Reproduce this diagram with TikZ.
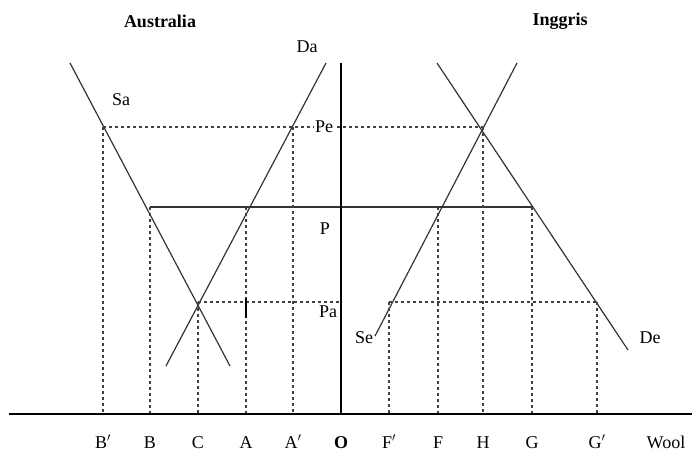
\documentclass[tikz,border=0pt]{standalone}
\usepackage{fontspec}
\setmainfont{Liberation Serif}
\begin{document}
\begin{tikzpicture}[x=1pt,y=-1pt,
  curve/.style={line width=1.2pt,draw=black!80},
  axis/.style={line width=2.2pt},
  dashline/.style={line width=1.1pt,draw=black!75,dash pattern=on 3pt off 3pt},
  lbl/.style={font=\fontsize{18}{21}\selectfont,inner sep=0pt},
  mask/.style={fill=white,inner sep=1pt},
  ttl/.style={font=\fontsize{18}{21}\selectfont\bfseries,inner sep=0pt}]
\useasboundingbox (0,0) rectangle (696,453);
% Australia curves
\coordinate (sa1) at (70,63);
\coordinate (sa2) at (230,366);
\coordinate (da1) at (326,63);
\coordinate (da2) at (166,366);
\draw[curve] (sa1) -- (sa2);
\draw[curve] (da1) -- (da2);
% England curves
\coordinate (se1) at (375,336);
\coordinate (se2) at (517,63);
\coordinate (de1) at (437,63);
\coordinate (de2) at (628,350);
\draw[curve] (se1) -- (se2);
\draw[curve] (de1) -- (de2);
% key points
\coordinate (pB') at (103,127);
\coordinate (pA') at (293,127);
\coordinate (pH) at (483,127);
\coordinate (pB) at (150,207);
\coordinate (pA) at (246,207);
\coordinate (pF) at (438,207);
\coordinate (pG) at (532,207);
\coordinate (pC) at (198,302);
\coordinate (paO) at (341,302);
\coordinate (pF') at (389,302);
\coordinate (pG') at (597,302);
% base points
\coordinate (bB') at (103,414);
\coordinate (bB) at (150,414);
\coordinate (bC) at (198,414);
\coordinate (bA) at (246,414);
\coordinate (bA') at (293,414);
\coordinate (bF') at (389,414);
\coordinate (bF) at (438,414);
\coordinate (bH) at (483,414);
\coordinate (bG) at (532,414);
\coordinate (bG') at (597,414);
% price lines
\draw[dashline] (pB') -- (pH);
\draw[curve] (pB) -- (pG);
\draw[dashline] (pC) -- (paO);
\draw[dashline] (pF') -- (pG');
% verticals
\foreach \p in {B',B,C,A,A',F',F,H,G,G'} \draw[dashline] (p\p) -- (b\p);
\coordinate (tk1) at (246,298);
\coordinate (tk2) at (246,318);
\draw[line width=1.2pt] (tk1) -- (tk2);
% price labels
\node[lbl,mask] (lPe) at (324,127) {Pe};
\node[lbl] (lP) at (325,229) {P};
\node[lbl] (lPa) at (328,312) {Pa};
% axes
\coordinate (xl) at (9,414);
\coordinate (xr) at (692,414);
\coordinate (yt) at (341,63);
\coordinate (O) at (341,415);
\draw[axis] (xl) -- (xr);
\draw[axis] (yt) -- (O);
% titles
\node[ttl] (tAus) at (160,21) {Australia};
\node[ttl] (tIng) at (560,21) {Inggris};
% curve labels
\node[lbl] (lDa) at (307,47) {Da};
\node[lbl] (lSa) at (121,100) {Sa};
\node[lbl] (lSe) at (364,338) {Se};
\node[lbl] (lDe) at (650,338) {De};
% axis labels
\foreach \x/\t [count=\i] in {103/{B$'$},150/B,198/C,246/A,293/{A$'$},389/{F$'$},438/F,483/H,532/G,597/{G$'$}}
  \node[lbl,anchor=base] (ax\i) at (\x,448) {\t};
\node[ttl,anchor=base] (lO) at (341,448) {O};
\node[lbl,anchor=base] (lWool) at (666,448) {Wool};
\end{tikzpicture}
\end{document}
